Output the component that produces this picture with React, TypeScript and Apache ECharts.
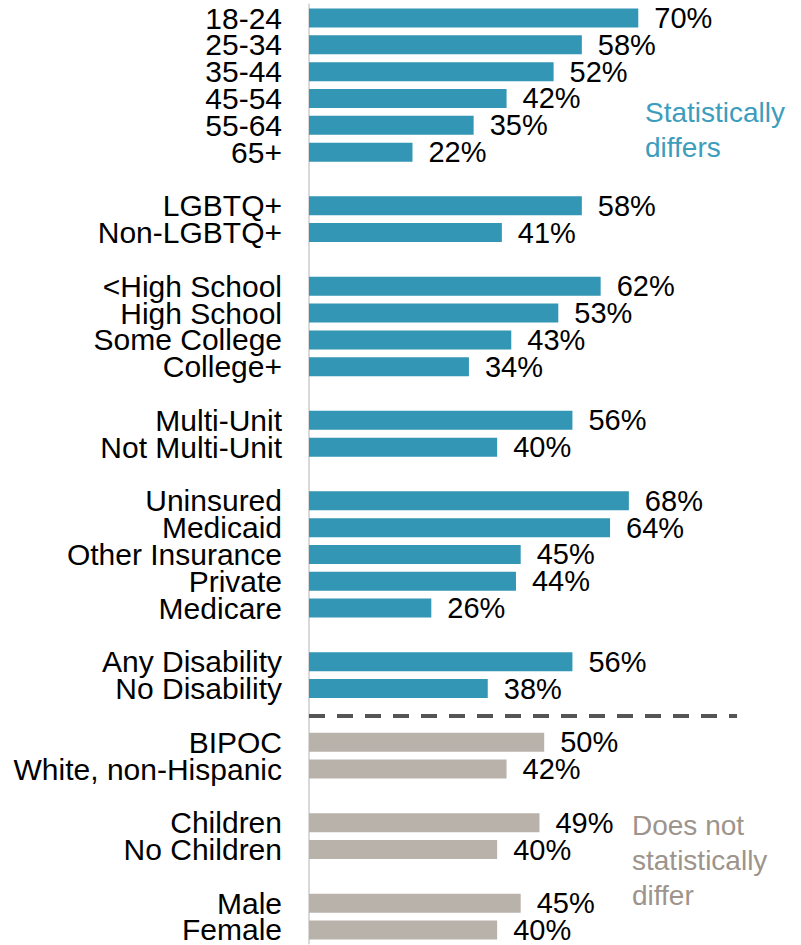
import React, { useEffect, useRef } from "react";
import * as echarts from "echarts";

const ageLabels = ["18-24", "25-34", "35-44", "45-54", "55-64", "65+"];
const ageValues = [70, 58, 52, 42, 35, 22];
const lgbtLabels = ["LGBTQ+", "Non-LGBTQ+"];
const lgbtValues = [58, 41];
const eduLabels = ["<High School", "High School", "Some College", "College+"];
const eduValues = [62, 53, 43, 34];
const unitLabels = ["Multi-Unit", "Not Multi-Unit"];
const unitValues = [56, 40];
const insLabels = ["Uninsured", "Medicaid", "Other Insurance", "Private", "Medicare"];
const insValues = [68, 64, 45, 44, 26];
const disLabels = ["Any Disability", "No Disability"];
const disValues = [56, 38];
const raceLabels = ["BIPOC", "White, non-Hispanic"];
const raceValues = [50, 42];
const childLabels = ["Children", "No Children"];
const childValues = [49, 40];
const sexLabels = ["Male", "Female"];
const sexValues = [45, 40];

const groups = [
  { labels: ageLabels, values: ageValues, sig: true },
  { labels: lgbtLabels, values: lgbtValues, sig: true },
  { labels: eduLabels, values: eduValues, sig: true },
  { labels: unitLabels, values: unitValues, sig: true },
  { labels: insLabels, values: insValues, sig: true },
  { labels: disLabels, values: disValues, sig: true },
  { labels: raceLabels, values: raceValues, sig: false },
  { labels: childLabels, values: childValues, sig: false },
  { labels: sexLabels, values: sexValues, sig: false },
];

const TEAL = "#3396b5";
const GREY = "#b8b2ab";
const FONT = "'Liberation Sans', Arial, sans-serif";

export default function App() {
  const ref = useRef<HTMLDivElement>(null);
  useEffect(() => {
    if (!ref.current) return;
    const chart = echarts.init(ref.current, undefined, { renderer: "svg" });
    const categories: string[] = [];
    const data: any[] = [];
    let sepIndex = 0;
    groups.forEach((g, gi) => {
      if (gi > 0) {
        const blank = " ".repeat(gi);
        if (groups[gi - 1].sig && !g.sig) sepIndex = categories.length;
        categories.push(blank);
        data.push({ value: "-" });
      }
      g.labels.forEach((l, i) => {
        categories.push(l);
        data.push({ value: g.values[i], itemStyle: { color: g.sig ? TEAL : GREY } });
      });
    });
    chart.setOption({
      animation: false,
      grid: { left: 309, top: 4.6, height: 938.8, width: 470.4 },
      xAxis: { type: "value", min: 0, max: 100, show: false },
      yAxis: {
        type: "category",
        inverse: true,
        data: categories,
        axisTick: { show: false },
        axisLine: { show: true, lineStyle: { color: "#d9d9d9", width: 2 } },
        axisLabel: {
          interval: 0,
          color: "#000",
          fontSize: 30,
          lineHeight: 26,
          fontFamily: FONT,
          margin: 27,
        },
      },
      series: [
        {
          type: "bar",
          data,
          barWidth: 19,
          label: {
            show: true,
            position: "right",
            distance: 16,
            formatter: "{c}%",
            color: "#000",
            fontSize: 29,
            lineHeight: 26,
            fontFamily: FONT,
          },
          markLine: {
            silent: true,
            symbol: "none",
            label: { show: false },
            lineStyle: { color: "#555555", type: [16, 12], width: 4 },
            data: [[{ coord: [0, sepIndex] }, { coord: [91, sepIndex] }]],
          },
        },
      ],
      graphic: [
        {
          type: "text",
          x: 645,
          y: 95,
          style: {
            text: "Statistically\ndiffers",
            fill: "#3c9dbc",
            fontSize: 28,
            fontFamily: FONT,
            lineHeight: 35,
          },
        },
        {
          type: "text",
          x: 632,
          y: 808,
          style: {
            text: "Does not\nstatistically\ndiffer",
            fill: "#9d948c",
            fontSize: 28,
            fontFamily: FONT,
            lineHeight: 35,
          },
        },
      ],
    });
    return () => chart.dispose();
  }, []);
  return <div ref={ref} style={{ width: 801, height: 945, position: "absolute", left: 0, top: 0 }} />;
}
